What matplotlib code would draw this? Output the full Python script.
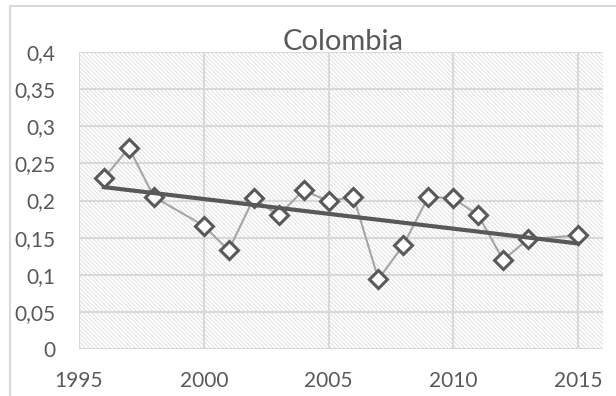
import numpy as np
import matplotlib.pyplot as plt
from matplotlib.patches import Rectangle
from matplotlib.ticker import FuncFormatter, MultipleLocator

# data (1999 and 2014 missing)
years = [1996, 1997, 1998, 2000, 2001, 2002, 2003, 2004, 2005, 2006,
         2007, 2008, 2009, 2010, 2011, 2012, 2013, 2015]
values = [0.230, 0.271, 0.205, 0.166, 0.133, 0.203, 0.180, 0.214, 0.199, 0.205,
          0.094, 0.140, 0.205, 0.203, 0.180, 0.120, 0.148, 0.153]

plt.rcParams['font.family'] = ['Lato', 'DejaVu Sans']
plt.rcParams['hatch.linewidth'] = 0.6
txt = '#595959'

fig = plt.figure(figsize=(6.16, 3.96), dpi=100)
# outer chart border (light gray)
fig.patches.append(Rectangle((10 / 616, -0.1), 1.2, (396 - 6) / 396 + 0.1,
                             transform=fig.transFigure, fill=False,
                             edgecolor='#d9d9d9', linewidth=1.5))

ax = fig.add_axes([79 / 616, 47 / 396, 524 / 616, 297 / 396])
ax.set_xlim(1995, 2016)
ax.set_ylim(0, 0.4)

# hatched plot area
ax.add_patch(Rectangle((0, 0), 1, 1, transform=ax.transAxes, facecolor='white',
                       edgecolor='#dcdcdc', hatch='\\' * 8, linewidth=0, zorder=0))

ax.xaxis.set_major_locator(MultipleLocator(5))
ax.yaxis.set_major_locator(MultipleLocator(0.05))
ax.yaxis.set_major_formatter(FuncFormatter(lambda v, p: ('%g' % round(v, 2)).replace('.', ',')))
ax.grid(True, color='#d9d9d9', linewidth=1.5, zorder=1)
ax.set_axisbelow(True)
for s in ax.spines.values():
    s.set_visible(False)
ax.tick_params(length=0, labelsize=15, labelcolor=txt)
ax.tick_params(axis='y', pad=17)
ax.tick_params(axis='x', pad=16)

ax.plot(years, values, color='#a5a5a5', linewidth=1.5, zorder=3,
        marker='D', markersize=9, markerfacecolor='white',
        markeredgecolor=txt, markeredgewidth=2.2)

# linear trend
k, b = np.polyfit(years, values, 1)
tx = np.array([years[0], years[-1]])
ax.plot(tx, k * tx + b, color=txt, linewidth=3, zorder=4)

fig.text(343 / 616, 1 - 50 / 396, 'Colombia', ha='center', va='baseline',
         fontsize=21, color=txt)

fig.savefig('out.png', dpi=100)
